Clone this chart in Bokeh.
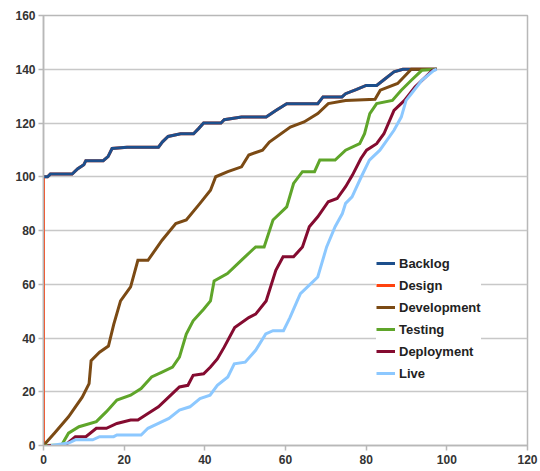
from bokeh.plotting import figure
from bokeh.models import Legend, LegendItem, Range1d, FixedTicker
from bokeh.embed import file_html
from bokeh.resources import INLINE

# ---- data ----
x_ticks = [0, 20, 40, 60, 80, 100, 120]
y_ticks = [0, 20, 40, 60, 80, 100, 120, 140, 160]

backlog_x = [0, 1, 1.7, 7.1, 8.5, 10, 10.5, 14.8, 16, 17, 20.7, 28.5, 29.5, 30.9, 34, 37.2,
             38.5, 39.7, 44, 44.8, 49.1, 55.2, 57.7, 60.3, 68, 69.3, 74, 74.9, 77.5, 80,
             82.6, 84.4, 86.9, 89.1, 97.5]
backlog_y = [100, 100, 101, 101, 103, 104.5, 106, 106, 107.5, 110.5, 111, 111, 113, 115, 116, 116,
             118, 120, 120, 121.2, 122.2, 122.2, 124.7, 127.2, 127.2, 129.7, 129.7, 130.9, 132.4, 134,
             134, 136.1, 139, 140, 140]

design_x = [0] + backlog_x
design_y = [0] + backlog_y

dev_x = [0, 2.7, 6.2, 9.6, 11.3, 11.8, 13.9, 16.1, 17.4, 19.1, 21.6, 23.4, 25.9, 29.4, 32.8,
         35.4, 38.8, 41.4, 42.7, 45.7, 49.1, 50.9, 54.3, 56, 61.2, 64.6, 68, 70.6, 74.9,
         82.2, 83.5, 87.8, 91.2, 97.5]
dev_y = [0, 4.6, 10.7, 18, 23, 31.6, 34.7, 37, 45, 53.8, 59, 68.9, 68.9, 76.4, 82.6,
         83.9, 90.1, 95, 100, 101.9, 103.7, 108.1, 109.9, 112.9, 118.5, 120.4, 123.5, 127.2, 128.4,
         128.8, 132.2, 134.7, 140, 140]

test_x = [0.5, 4.5, 6.2, 8.8, 13.1, 15.6, 18.2, 21.6, 24.2, 26.8, 29.4, 32, 33.7, 35.4, 37.1,
          39.7, 41.4, 42.3, 45.6, 49.1, 52.6, 54.7, 56.9, 60.3, 62, 64.2, 67.2, 68.5, 72.3,
          74.9, 78.4, 79.6, 80.9, 82.6, 86.5, 88.7, 91.2, 93.8, 97.5]
test_y = [0, 0.2, 4.6, 7.0, 8.9, 12.6, 16.9, 18.7, 21.2, 25.5, 27.3, 29.2, 32.9, 41.5, 46.4,
          50.7, 53.8, 61.2, 64, 69, 73.9, 73.9, 83.9, 88.8, 97.5, 101.9, 101.9, 106.2, 106.2,
          109.9, 112.3, 116, 123.5, 127.2, 128.4, 132.2, 135.9, 139.6, 140]

deploy_x = [1, 5.3, 7.9, 10.5, 13.1, 15.6, 18.2, 21.6, 23.4, 25.9, 28.5, 31.1, 33.7, 35.8,
            37.1, 39.7, 41.4, 43.1, 44.8, 47.4, 50.9, 52.6, 55.2, 57.6, 59.4, 62, 64.2, 65.9,
            68, 70.6, 72.8, 74.9, 76.6, 78.7, 80.1, 82.6, 84.4, 86.9, 89.5, 92.1, 94.7, 96.4, 97.5]
deploy_y = [0, 0, 3.3, 3.3, 6.4, 6.4, 8.2, 9.5, 9.5, 11.9, 14.4, 18.1, 21.8, 22.4,
            26.1, 26.7, 29.2, 32.2, 36.6, 43.9, 47.6, 48.9, 53.8, 65.2, 70.2, 70.2, 73.9, 81.4,
            85.1, 90.7, 91.9, 96.3, 100.6, 106.8, 109.9, 112.3, 116, 124.7, 128.4, 133.4, 137.1, 139.6, 140]

live_x = [1.9, 6.2, 7.9, 12.2, 13.9, 17.4, 18.2, 24.2, 25.9, 28.5, 31.1, 33.7, 36.3, 38.8,
          41.3, 43.1, 45.7, 47.3, 50, 52.6, 55.1, 56.9, 59.5, 61.1, 62.9, 63.7, 66.3, 68,
          70.2, 72.3, 74.1, 74.9, 76.5, 78.8, 80.8, 83.4, 86.9, 88.7, 89.9, 91.2, 93.8, 96.8, 97.5]
live_y = [0, 0.9, 2.1, 2.1, 3.3, 3.3, 3.9, 3.9, 6.4, 8.2, 10.1, 13.2, 14.4, 17.5,
          18.7, 22.4, 25.5, 30.4, 31, 35.4, 41.5, 42.7, 42.7, 47.6, 53.8, 56.5, 60.2, 62.7,
          73.9, 81.4, 86.3, 90.1, 92.5, 100, 106.2, 109.9, 117.3, 122.2, 128.4, 130.9, 135.9, 139.6, 140]

series = [
    ("Design", design_x, design_y, "#ff420e"),
    ("Backlog", backlog_x, backlog_y, "#1d4f8c"),
    ("Development", dev_x, dev_y, "#7b4a14"),
    ("Testing", test_x, test_y, "#5fa52a"),
    ("Deployment", deploy_x, deploy_y, "#840b30"),
    ("Live", live_x, live_y, "#8cc8ff"),
]
legend_order = ["Backlog", "Design", "Development", "Testing", "Deployment", "Live"]

p = figure(width=540, height=471, output_backend="svg", toolbar_location=None,
           x_range=Range1d(0, 120), y_range=Range1d(0, 160),
           min_border_left=43, min_border_right=13, min_border_top=15, min_border_bottom=26)
p.background_fill_color = "white"
p.border_fill_color = "white"
p.outline_line_color = "#b8b8b8"
p.outline_line_width = 1.5

p.xgrid.visible = False
p.ygrid.grid_line_color = "#c8c8c8"
p.ygrid.grid_line_width = 1.5
p.xaxis.ticker = FixedTicker(ticks=x_ticks)
p.yaxis.ticker = FixedTicker(ticks=y_ticks)
for ax in (p.xaxis[0], p.yaxis[0]):
    ax.axis_line_color = "#b8b8b8"
    ax.axis_line_width = 1.5
    ax.major_tick_line_color = "#b8b8b8"
    ax.major_tick_line_width = 1.5
    ax.major_tick_out = 5
    ax.major_tick_in = 0
    ax.minor_tick_line_color = None
    ax.major_label_text_font = "Liberation Sans"
    ax.major_label_text_font_style = "bold"
    ax.major_label_text_font_size = "12px"
    ax.major_label_text_color = "#333333"
p.xaxis.major_label_standoff = 4
p.yaxis.major_label_standoff = 3

renderers = {}
for name, xs, ys, col in series:
    r = p.line(xs, ys, line_color=col, line_width=3, line_join="miter")
    renderers[name] = r

items = [LegendItem(label=n, renderers=[renderers[n]]) for n in legend_order]
legend = Legend(items=items, location=(333, 63))
legend.background_fill_color = "white"
legend.background_fill_alpha = 1.0
legend.border_line_color = None
legend.label_text_font = "Liberation Sans"
legend.label_text_font_style = "bold"
legend.label_text_font_size = "13px"
legend.label_text_color = "#222222"
legend.glyph_width = 19
legend.glyph_height = 18
legend.label_height = 18
legend.spacing = 4
legend.padding = 6
legend.margin = 0
legend.label_standoff = 4
p.add_layout(legend)

open("out.html", "w").write(file_html(p, INLINE))
